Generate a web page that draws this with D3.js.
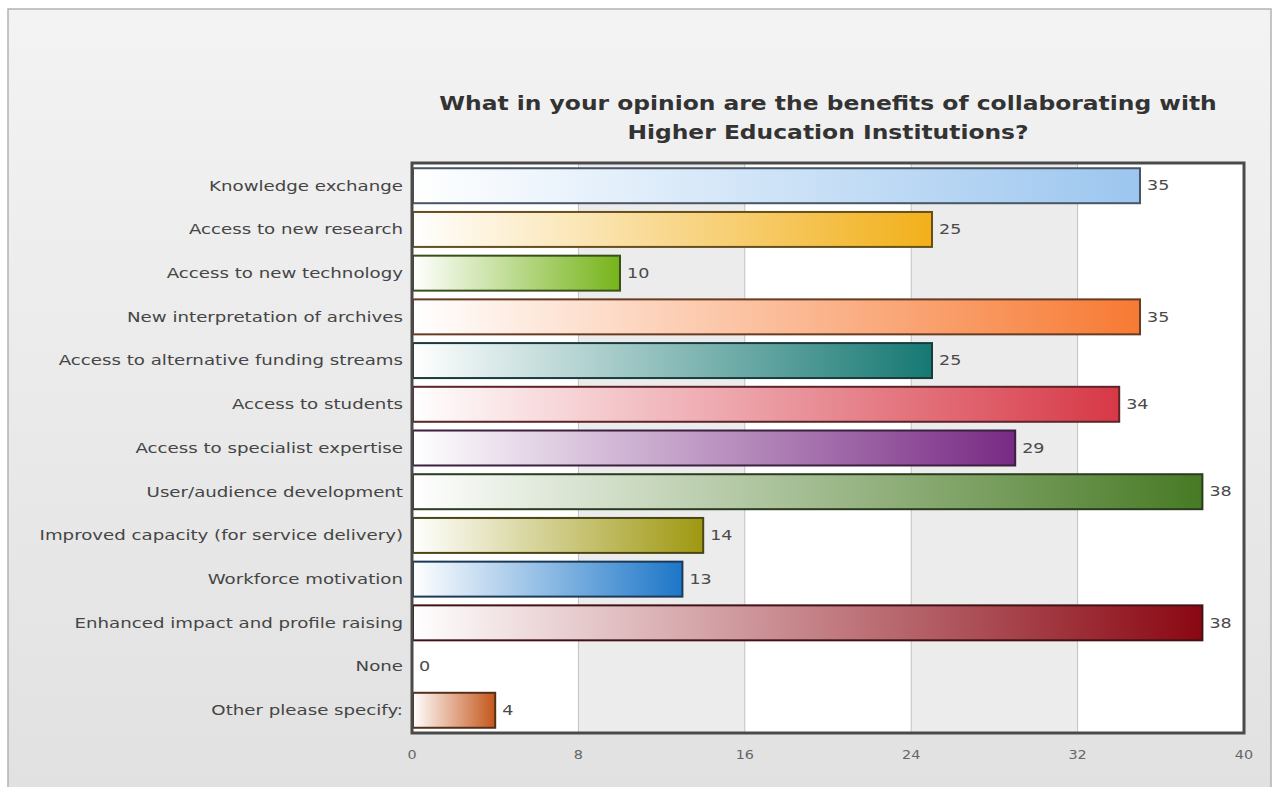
<!DOCTYPE html>
<html><head><meta charset="utf-8">
<script src="https://cdn.jsdelivr.net/npm/d3@7"></script>
<style>
body{margin:0;background:#ffffff;}
text{font-family:"DejaVu Sans",Verdana,sans-serif;}
</style>
</head><body>
<svg id="chart" width="1279" height="787"></svg>
<script>
// ---- data ----
const titleLines = ["What in your opinion are the benefits of collaborating with", "Higher Education Institutions?"];
const categories = [
  "Knowledge exchange",
  "Access to new research",
  "Access to new technology",
  "New interpretation of archives",
  "Access to alternative funding streams",
  "Access to students",
  "Access to specialist expertise",
  "User/audience development",
  "Improved capacity (for service delivery)",
  "Workforce motivation",
  "Enhanced impact and profile raising",
  "None",
  "Other please specify:"
];
const values = [35, 25, 10, 35, 25, 34, 29, 38, 14, 13, 38, 0, 4];
const barColors = ["#9cc6ef", "#f2b01a", "#76b41a", "#f77a33", "#167873", "#d73846", "#782a84", "#477a24", "#9f9811", "#1c76c8", "#8a0712", "#999999", "#c4561a"];
const tickValues = [0, 8, 16, 24, 32, 40];

// ---- layout ----
const W = 1279, H = 787;
const margin = {top: 163, right: 35, bottom: 54, left: 412};
const TX = 1.3; // horizontal stretch of text in the reference

const svg = d3.select("#chart");
const defs = svg.append("defs");

const pg = defs.append("linearGradient").attr("id", "panelGrad").attr("x1", 0).attr("y1", 0).attr("x2", 0).attr("y2", 1);
pg.append("stop").attr("offset", "0%").attr("stop-color", "#f3f3f3");
pg.append("stop").attr("offset", "100%").attr("stop-color", "#e1e1e1");

svg.append("rect").attr("x", 8).attr("y", 9).attr("width", 1263).attr("height", 790)
  .attr("fill", "url(#panelGrad)").attr("stroke", "#b3b3b3").attr("stroke-width", 1.5);

const x = d3.scaleLinear().domain([0, 40]).range([margin.left, W - margin.right]);
const y = d3.scaleBand().domain(categories).range([margin.top, H - margin.bottom]).paddingInner(0.2).paddingOuter(0.12);

// alternating bands
const bandPairs = d3.pairs(tickValues);
svg.append("g").selectAll("rect").data(bandPairs).join("rect")
  .attr("x", d => x(d[0])).attr("width", d => x(d[1]) - x(d[0]))
  .attr("y", margin.top).attr("height", H - margin.bottom - margin.top)
  .attr("fill", (d, i) => i % 2 ? "#ececec" : "#ffffff");

// grid lines
svg.append("g").selectAll("line").data(tickValues.slice(1, -1)).join("line")
  .attr("x1", d => x(d)).attr("x2", d => x(d))
  .attr("y1", margin.top).attr("y2", H - margin.bottom)
  .attr("stroke", "#c2c2c2").attr("stroke-width", 1);

// bar gradients
barColors.forEach((c, i) => {
  const g = defs.append("linearGradient").attr("id", "bg" + i).attr("x1", 0).attr("y1", 0).attr("x2", 1).attr("y2", 0);
  g.append("stop").attr("offset", "0%").attr("stop-color", "#ffffff");
  g.append("stop").attr("offset", "100%").attr("stop-color", c);
});

const data = categories.map((c, i) => ({cat: c, v: values[i], i}));

svg.append("g").selectAll("rect").data(data.filter(d => d.v > 0)).join("rect")
  .attr("x", x(0) + 1).attr("y", d => y(d.cat))
  .attr("width", d => x(d.v) - x(0) - 1).attr("height", y.bandwidth())
  .attr("fill", d => "url(#bg" + d.i + ")")
  .attr("stroke", d => d3.interpolateRgb(barColors[d.i], "#1a1a1a")(0.65))
  .attr("stroke-width", 2);

// plot border
svg.append("rect").attr("x", margin.left).attr("y", margin.top)
  .attr("width", W - margin.right - margin.left).attr("height", H - margin.bottom - margin.top)
  .attr("fill", "none").attr("stroke", "#4a4a4a").attr("stroke-width", 3);

// value labels
svg.append("g").selectAll("text").data(data).join("text")
  .attr("transform", d => `translate(${x(d.v) + 7},${y(d.cat) + y.bandwidth() / 2}) scale(${TX},1)`)
  .attr("dy", "0.35em").attr("font-size", 13.5).attr("fill", "#4a4a4a")
  .text(d => d.v);

// category axis labels
svg.append("g").selectAll("text").data(categories).join("text")
  .attr("transform", d => `translate(${margin.left - 9},${y(d) + y.bandwidth() / 2}) scale(${TX},1)`)
  .attr("dy", "0.35em").attr("text-anchor", "end").attr("font-size", 14).attr("fill", "#454545")
  .text(d => d);

// x axis tick labels
const xAxis = d3.axisBottom(x).tickValues(tickValues).tickSize(0).tickPadding(17);
const ax = svg.append("g").attr("transform", `translate(0,${H - margin.bottom})`).call(xAxis);
ax.select(".domain").remove();
ax.selectAll("text").attr("font-size", 12.5).attr("fill", "#666").attr("font-family", "DejaVu Sans, sans-serif")
  .attr("transform", "scale(1.15,1)")
  .attr("x", function() { return 0; });
ax.selectAll(".tick").each(function(d) {
  d3.select(this).attr("transform", `translate(${x(d)},0)`);
});

// title
svg.append("g").selectAll("text").data(titleLines).join("text")
  .attr("transform", (d, i) => `translate(${(margin.left + W - margin.right) / 2},${110 + i * 29}) scale(1.17,1)`)
  .attr("text-anchor", "middle").attr("font-size", 20).attr("font-weight", "bold").attr("fill", "#333")
  .text(d => d);
</script>
</body></html>
